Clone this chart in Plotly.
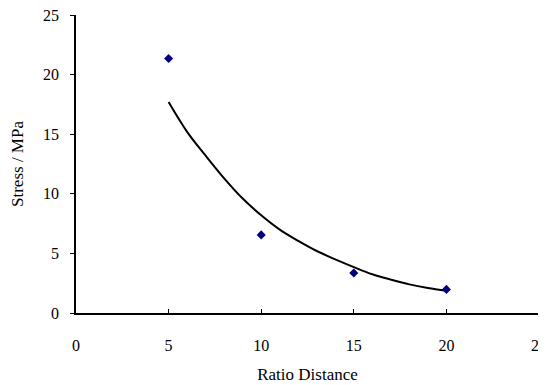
import plotly.graph_objects as go

# Measured points
point_x = [5, 10, 15, 20]
point_y = [21.35, 6.55, 3.35, 1.98]

# Trend curve
curve_x = [5, 6, 7, 8, 9, 10, 11, 12, 13, 14, 15, 16, 17, 18, 19, 20]
curve_y = [17.7, 15.2, 13.2, 11.3, 9.6, 8.2, 7.0, 6.05, 5.2, 4.5, 3.85, 3.25, 2.8, 2.4, 2.1, 1.87]

x_ticks = [0, 5, 10, 15, 20, 25]
y_ticks = [0, 5, 10, 15, 20, 25]

font_family = "Liberation Serif, Times New Roman, DejaVu Serif, serif"

fig = go.Figure()
fig.add_trace(go.Scatter(x=curve_x, y=curve_y, mode="lines",
                         line=dict(color="black", width=2, shape="spline"),
                         showlegend=False, hoverinfo="skip"))
fig.add_trace(go.Scatter(x=point_x, y=point_y, mode="markers",
                         marker=dict(symbol="diamond", size=7, color="#000080"),
                         showlegend=False))

# The page body has an 8px default margin, so the figure is offset by (8, 8)
fig.update_layout(
    width=546, height=385,
    margin=dict(l=68, r=15, t=7, b=80),
    paper_bgcolor="white", plot_bgcolor="white",
    font=dict(family=font_family, size=16, color="black"),
    xaxis=dict(range=[0, 25], tickvals=x_ticks, ticktext=[str(v) for v in x_ticks],
               showgrid=False, zeroline=False, showline=True, linecolor="black",
               linewidth=1.5, ticks="inside", ticklen=4, tickcolor="black",
               tickwidth=1.2, ticklabelstandoff=17, ticklabeloverflow="allow",
               automargin=False,
               title=dict(text="Ratio Distance", standoff=15,
                          font=dict(family=font_family, size=17))),
    yaxis=dict(range=[0, 25], tickvals=y_ticks, ticktext=[str(v) for v in y_ticks],
               showgrid=False, zeroline=False, showline=True, linecolor="black",
               linewidth=1.5, ticks="outside", ticklen=4, tickcolor="black",
               tickwidth=1.2, ticklabelstandoff=8, ticklabeloverflow="allow",
               automargin=False,
               title=dict(text="Stress / MPa", standoff=20,
                          font=dict(family=font_family, size=17))),
)

fig.write_html("out.html")
